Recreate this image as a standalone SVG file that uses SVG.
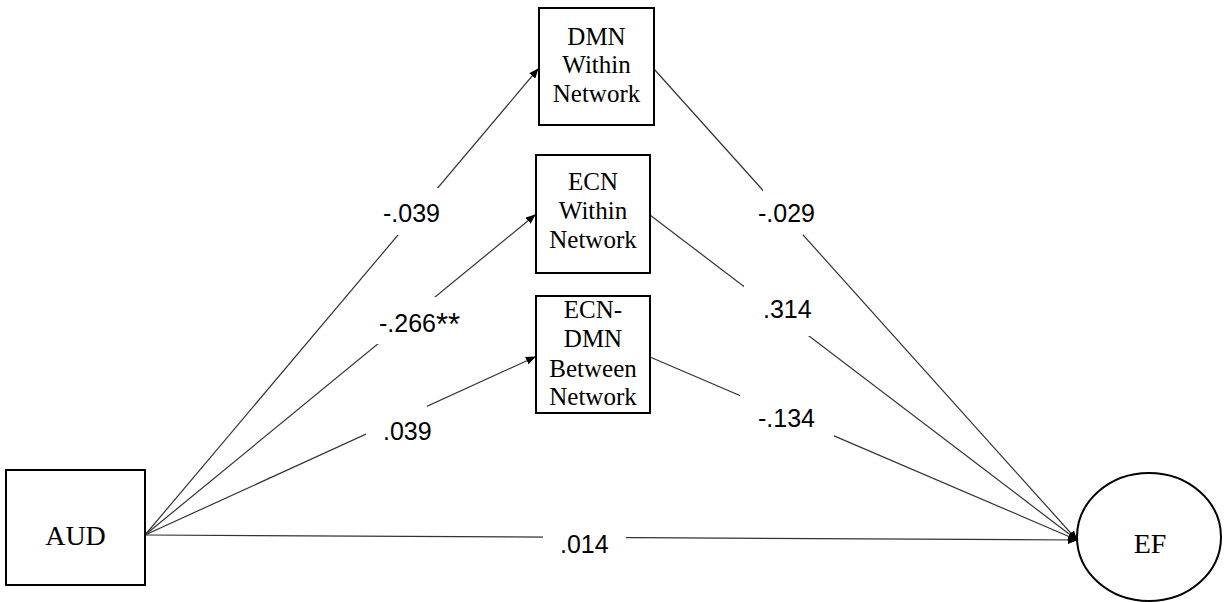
<svg xmlns="http://www.w3.org/2000/svg" width="1225" height="602" viewBox="0 0 1225 602">
  <style>
    .box { fill: #fff; stroke: #000; stroke-width: 2; }
    .node-text { font-family: "Liberation Serif", "Times New Roman", serif; font-size: 25px; fill: #000; text-anchor: middle; }
    .path { stroke: #333; stroke-width: 1.2; fill: none; marker-end: url(#arrow); }
    .coef { font-family: "Liberation Sans", Arial, sans-serif; font-size: 25px; fill: #000; }
  </style>
  <defs>
    <marker id="arrow" markerUnits="userSpaceOnUse" markerWidth="10" markerHeight="8" refX="9" refY="4" orient="auto">
      <path d="M0,0 L10,4 L0,8 Z" fill="#000"/>
    </marker>
    <!-- breaks in the path lines where coefficients sit -->
    <mask id="label-gaps" maskUnits="userSpaceOnUse" x="0" y="0" width="1225" height="602">
      <rect x="0" y="0" width="1225" height="602" fill="#fff"/>
      <rect x="365" y="188" width="95" height="47" fill="#000"/>
      <rect x="370" y="297" width="100" height="47" fill="#000"/>
      <rect x="366" y="402" width="61" height="40" fill="#000"/>
      <rect x="543" y="525" width="83" height="30" fill="#000"/>
      <rect x="763" y="188" width="40" height="47" fill="#000"/>
      <rect x="744" y="286" width="82" height="50" fill="#000"/>
      <rect x="740" y="380" width="94" height="70" fill="#000"/>
    </mask>
  </defs>

  <rect width="1225" height="602" fill="#fff"/>

  <g id="connectors" mask="url(#label-gaps)">
    <line class="path" x1="145" y1="535" x2="538" y2="69"/>
    <line class="path" x1="145" y1="535" x2="535" y2="215"/>
    <line class="path" x1="145" y1="535" x2="535" y2="357"/>
    <line class="path" x1="145" y1="535" x2="1077" y2="540"/>
    <line class="path" x1="654" y1="69" x2="1077" y2="540"/>
    <line class="path" x1="650" y1="215" x2="1077" y2="540"/>
    <line class="path" x1="650" y1="357" x2="1077" y2="540"/>
  </g>

  <g id="coefficients">
    <text class="coef" x="383" y="222">-.039</text>
    <text class="coef" x="379" y="332">-.266<tspan dy="3" style="font-size:31px">**</tspan></text>
    <text class="coef" x="383" y="440">.039</text>
    <text class="coef" x="560" y="553">.014</text>
    <text class="coef" x="758" y="222">-.029</text>
    <text class="coef" x="763" y="318">.314</text>
    <text class="coef" x="758" y="427">-.134</text>
  </g>

  <g id="aud">
    <rect class="box" x="6" y="470" width="139" height="115"/>
    <text class="node-text" x="75.5" y="545" style="font-size:28px">AUD</text>
  </g>

  <g id="dmn-within">
    <rect class="box" x="539" y="8" width="115" height="117"/>
    <text class="node-text" x="596.5" y="45">DMN</text>
    <text class="node-text" x="596.5" y="73">Within</text>
    <text class="node-text" x="596.5" y="102">Network</text>
  </g>

  <g id="ecn-within">
    <rect class="box" x="536" y="155" width="114" height="118"/>
    <text class="node-text" x="593" y="190">ECN</text>
    <text class="node-text" x="593" y="219">Within</text>
    <text class="node-text" x="593" y="248">Network</text>
  </g>

  <g id="ecn-dmn-between">
    <rect class="box" x="536" y="296" width="114" height="117"/>
    <text class="node-text" x="593" y="318">ECN-</text>
    <text class="node-text" x="593" y="347">DMN</text>
    <text class="node-text" x="593" y="377">Between</text>
    <text class="node-text" x="593" y="405">Network</text>
  </g>

  <g id="ef">
    <ellipse class="box" cx="1149" cy="537" rx="72" ry="64"/>
    <text class="node-text" x="1150" y="553" style="font-size:28px">EF</text>
  </g>
</svg>
